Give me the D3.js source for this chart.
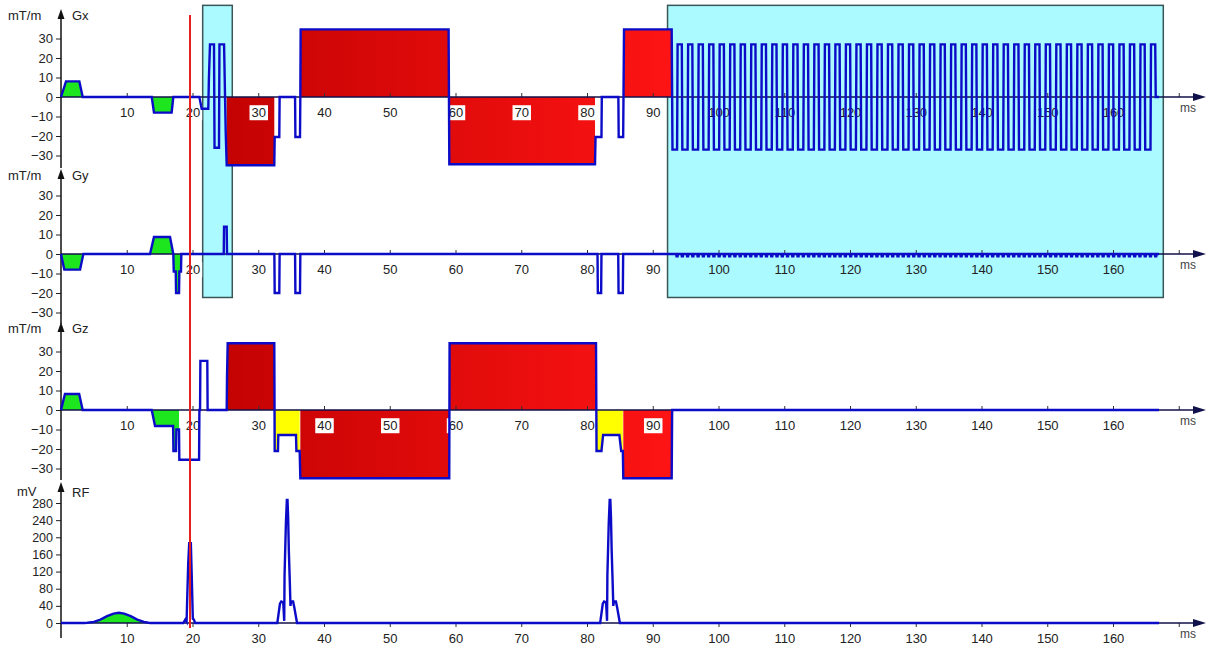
<!DOCTYPE html>
<html>
<head>
<meta charset="utf-8">
<script src="https://cdn.jsdelivr.net/npm/d3@7/dist/d3.min.js"></script>
<style>
body { margin: 0; background: #fff; }
svg { display: block; font-family: "Liberation Sans", Arial, sans-serif; }
</style>
</head>
<body>
<svg id="chart" width="1208" height="650"></svg>
<script>
// ---- data (time in ms, gradients in mT/m, RF in mV) ----
var xTicks = [10, 20, 30, 40, 50, 60, 70, 80, 90, 100, 110, 120, 130, 140, 150, 160, 170];
var gTicks = [-30, -20, -10, 0, 10, 20, 30];
var rfTicks = [0, 40, 80, 120, 160, 200, 240, 280];

var gxWave = [
  [0,0],[0.76,8],[2.79,8],[3.3,0],
  [13.8,0],[14.14,-8],[16.83,-8],[17.08,0],
  [21.04,0],[21.4,-6],[22.4,-6],[22.5,10],[22.66,27],[23.27,27],[23.35,-26],[24.03,-26],[24.1,27],[24.8,27],[24.95,0],[25.05,-18],[25.2,-35],
  [32.44,-35],[32.5,-20.5],[33.2,-20.5],[33.25,0],
  [35.6,0],[35.65,-20.5],[36.35,-20.5],[36.4,0],[36.45,34.7],[58.95,34.7],[59.06,-34.5],[81.22,-34.5],[81.3,-20.5],[82.2,-20.5],[82.25,0],
  [84.77,0],[84.82,-20.5],[85.5,-20.5],[85.55,0],[85.63,34.7],[92.88,34.7],[92.95,0]
];
var gxFills = [[0,3.3,'prep'],[13.8,17.08,'prep'],[25.2,32.44,'crush'],[36.45,58.95,'crush'],[59.06,81.22,'crush'],[85.63,92.88,'crush']];

// EPI readout: centres of the positive lobes
var epiPos = [94.1, 95.7, 97.3, 98.9, 100.5, 102.1, 103.7, 105.3, 106.9, 108.5, 110.1, 111.7, 113.3, 114.9, 116.5,
  118.1, 119.7, 121.3, 122.9, 124.5, 126.1, 127.7, 129.3, 130.9, 132.5, 134.1, 135.7, 137.3, 138.9, 140.5, 142.1,
  143.7, 145.3, 146.9, 148.5, 150.1, 151.7, 153.3, 154.9, 156.5, 158.1, 159.7, 161.3, 162.9, 164.5, 166.1];
var epiAmp = 27;
var epiHalf = 0.4;
var blipAmp = -1.2;

var gyWave = [
  [0,0],[0.5,-8],[2.9,-8],[3.4,0],
  [13.54,0],[14.14,8.7],[16.58,8.7],[17.08,0],[17.15,-9],[17.45,-9],[17.5,-20],[17.95,-20],[18.0,-9],[18.25,-9],[18.3,0],
  [24.75,0],[24.8,14],[25.2,14],[25.25,0],
  [32.45,0],[32.5,-20],[33.2,-20],[33.25,0],
  [35.6,0],[35.65,-20],[36.35,-20],[36.4,0],
  [81.6,0],[81.65,-20],[82.15,-20],[82.2,0],
  [84.75,0],[84.8,-20],[85.45,-20],[85.5,0],
  [92.95,0]
];
var gyFills = [[0,3.4,'prep'],[13.54,18.3,'prep']];

var gzWave = [
  [0,0],[0.6,8.2],[2.76,8.2],[3.3,0],
  [13.8,0],[14.3,-8.2],[16.8,-8.2],[17.05,-8.2],[17.1,-21],[17.5,-21],[17.55,-10],[17.95,-10],[18.0,-25.5],[21.0,-25.5],[21.05,0],
  [21.15,0],[21.2,25.2],[22.25,25.2],[22.3,0],
  [25.2,0],[25.25,17],[25.35,34.2],[32.44,34.2],[32.5,-21],[33.0,-21],[33.05,-12.8],[35.74,-12.8],[35.8,-21],[36.3,-21],
  [36.4,-35],[59.05,-35],[59.1,34.2],[81.37,34.2],[81.45,-21],[82.2,-21],[82.45,-12.8],[84.92,-12.8],[85.2,-21],[85.45,-21],
  [85.52,-35],[92.88,-35],[92.95,0],[167,0]
];
var gzFills = [[0,3.3,'prep'],[13.8,17.95,'prep'],[25.25,32.44,'crush'],[32.5,36.3,'ramp'],[36.4,59.05,'crush'],
  [59.1,81.37,'crush'],[81.45,85.45,'ramp'],[85.52,92.88,'crush']];

var rfWave = [
  [0,0],[3.5,0],[4.0,0.5],[5,2.5],[6,8],[7,16],[8,22],[8.8,24],[9.6,22],[10.6,16],[11.6,8],[12.6,2.5],[13.3,0.5],[13.6,0],
  [18.6,0],[18.9,8],[19.1,3],[19.2,60],[19.35,140],[19.5,186],[19.75,186],[19.9,100],[20.05,10],[20.2,8],[20.4,0],
  [32.9,0],[33.3,45],[33.5,50],[33.8,48],[33.95,5],[34.0,110],[34.1,170],[34.2,230],[34.35,287],[34.45,287],[34.55,245],
  [34.65,170],[34.8,95],[34.9,40],[35.0,50],[35.3,50],[35.5,35],[35.9,0],
  [82.0,0],[82.4,45],[82.6,50],[82.9,48],[83.05,5],[83.1,110],[83.2,170],[83.3,230],[83.45,287],[83.55,287],[83.65,245],
  [83.75,170],[83.9,95],[84.0,40],[84.1,50],[84.4,50],[84.6,35],[85.0,0],
  [167,0]
];
var rfFills = [[3.5,13.6,'prep']];

var readBoxes = [[21.55, 26.05], [92.25, 167.65]];
var markerTime = 19.62;

// ---- build the EPI parts ----
epiPos.forEach(function(c, i) {
  if (i == 0) gxWave.push([93.0, -epiAmp]);
  gxWave.push([c - epiHalf, -epiAmp]);
  gxWave.push([c - epiHalf + 0.08, epiAmp]);
  gxWave.push([c + epiHalf - 0.08, epiAmp]);
  if (i < epiPos.length - 1) gxWave.push([c + epiHalf, -epiAmp]);
  else gxWave.push([c + epiHalf, 0]);
});
gxWave.push([167, 0]);

epiPos.forEach(function(c) {
  [c - epiHalf, c + epiHalf].forEach(function(t) {
    gyWave.push([t - 0.12, 0], [t - 0.08, blipAmp], [t + 0.08, blipAmp], [t + 0.12, 0]);
  });
});
gyWave.push([167, 0]);

// ---- drawing ----
var svg = d3.select('#chart');
var x = d3.scaleLinear().domain([0, 170]).range([61, 61 + 170 * 6.575]);

var fillColor = { prep: '#1ee61e', crush: 'url(#redGrad)', ramp: '#ffff00' };
var waveColor = '#0c0cc8';
var axisColor = '#10104a';

var defs = svg.append('defs');
var grad = defs.append('linearGradient').attr('id', 'redGrad')
  .attr('gradientUnits', 'userSpaceOnUse')
  .attr('x1', 170).attr('x2', 680).attr('y1', 0).attr('y2', 0);
grad.append('stop').attr('offset', '0%').attr('stop-color', '#bd0000');
grad.append('stop').attr('offset', '100%').attr('stop-color', '#ff1414');

function gScale(zero) {
  return d3.scaleLinear().domain([-30, 30]).range([zero + 58.5, zero - 58.5]);
}

var panels = [
  { name: 'Gx', unit: 'mT/m', zero: 97, tip: 9, bottom: 168, y: gScale(97), ticks: gTicks, wave: gxWave, fills: gxFills, boxed: true },
  { name: 'Gy', unit: 'mT/m', zero: 254, tip: 169, bottom: 324, y: gScale(254), ticks: gTicks, wave: gyWave, fills: gyFills, boxed: true },
  { name: 'Gz', unit: 'mT/m', zero: 410, tip: 322, bottom: 480, y: gScale(410), ticks: gTicks, wave: gzWave, fills: gzFills, boxed: false },
  { name: 'RF', unit: 'mV', zero: 623, tip: 482, bottom: 638,
    y: d3.scaleLinear().domain([0, 280]).range([623, 503]), ticks: rfTicks, wave: rfWave, fills: rfFills, boxed: false }
];

// cyan read-out boxes over Gx and Gy
var boxTop = panels[0].y(47);
var boxBot = panels[1].y(-22.3);
svg.append('g').selectAll('rect').data(readBoxes).enter().append('rect')
  .attr('x', function(d) { return x(d[0]); })
  .attr('y', boxTop)
  .attr('width', function(d) { return x(d[1]) - x(d[0]); })
  .attr('height', boxBot - boxTop)
  .attr('fill', '#aafaff')
  .attr('stroke', '#3b5656')
  .attr('stroke-width', 1.5);

function inBox(t) {
  return readBoxes.some(function(b) { return t > b[0] && t < b[1]; });
}

panels.forEach(function(p, pi) {
  var g = svg.append('g');
  var y = p.y;

  // filled lobes
  p.fills.forEach(function(f, fi) {
    var id = 'clip' + pi + '_' + fi;
    defs.append('clipPath').attr('id', id).append('rect')
      .attr('x', x(f[0])).attr('y', 0)
      .attr('width', x(f[1]) - x(f[0])).attr('height', 650);
    g.append('path')
      .datum(p.wave)
      .attr('clip-path', 'url(#' + id + ')')
      .attr('fill', fillColor[f[2]])
      .attr('d', d3.area().x(function(d) { return x(d[0]); }).y0(y(0)).y1(function(d) { return y(d[1]); }));
  });

  // time axis
  var isRF = p.name == 'RF';
  var xAxis = d3.axisBottom(x).tickValues(xTicks)
    .tickSize(isRF ? 4 : -4).tickPadding(isRF ? 7 : 11)
    .tickFormat(function(d) { return d == 170 ? '' : d; });
  var xg = g.append('g').attr('transform', 'translate(0,' + p.zero + ')').call(xAxis);
  xg.select('.domain').remove();
  xg.selectAll('.tick line').attr('stroke', '#333').attr('stroke-width', 1);
  xg.selectAll('.tick text').attr('font-size', 13).attr('fill', '#222')
    .attr('font-family', '"Liberation Sans", Arial, sans-serif');
  xg.selectAll('.tick').each(function(d) {
    if (d == 170) return;
    if (p.boxed && inBox(d)) return;
    var t = d3.select(this).select('text');
    var bb = t.node().getBBox();
    d3.select(this).insert('rect', 'text')
      .attr('x', bb.x - 2).attr('y', bb.y)
      .attr('width', bb.width + 4).attr('height', bb.height)
      .attr('fill', '#fff');
  });
  g.append('line')
    .attr('x1', x(0)).attr('x2', 1196)
    .attr('y1', p.zero).attr('y2', p.zero)
    .attr('stroke', axisColor).attr('stroke-width', 1.5);
  g.append('path')
    .attr('d', 'M1193,' + (p.zero - 4) + 'L1206,' + p.zero + 'L1193,' + (p.zero + 4) + 'Z')
    .attr('fill', axisColor);
  g.append('text').attr('x', 1188).attr('y', p.zero + 15)
    .attr('text-anchor', 'middle').attr('font-size', 12).attr('fill', '#444')
    .text('ms');

  // value axis
  var yAxis = d3.axisLeft(y).tickValues(p.ticks).tickSize(5).tickPadding(3);
  var yg = g.append('g').attr('transform', 'translate(' + x(0) + ',0)').call(yAxis);
  yg.select('.domain').remove();
  yg.selectAll('.tick line').attr('stroke', '#222');
  yg.selectAll('.tick text').attr('font-size', isRF ? 12.5 : 13).attr('fill', '#222')
    .attr('font-family', '"Liberation Sans", Arial, sans-serif');
  g.append('line')
    .attr('x1', x(0)).attr('x2', x(0))
    .attr('y1', p.tip + 6).attr('y2', p.bottom)
    .attr('stroke', '#111').attr('stroke-width', 1.5);
  g.append('path')
    .attr('d', 'M' + x(0) + ',' + p.tip + 'L' + (x(0) + 3.5) + ',' + (p.tip + 10) + 'L' + (x(0) - 3.5) + ',' + (p.tip + 10) + 'Z')
    .attr('fill', '#111');
  g.append('text').attr('x', isRF ? 17 : 8).attr('y', p.tip + (isRF ? 14 : 11))
    .attr('font-size', 13).attr('fill', '#222').text(p.unit);
  g.append('text').attr('x', 72).attr('y', p.tip + (isRF ? 15 : 11))
    .attr('font-size', 13).attr('fill', '#222').text(p.name);

  // waveform outline
  g.append('path')
    .datum(p.wave)
    .attr('fill', 'none')
    .attr('stroke', waveColor)
    .attr('stroke-width', 2.4)
    .attr('stroke-linejoin', 'miter')
    .attr('d', d3.line().x(function(d) { return x(d[0]); }).y(function(d) { return y(d[1]); }));
});

// red time marker
svg.append('line')
  .attr('x1', x(markerTime)).attr('x2', x(markerTime))
  .attr('y1', 15).attr('y2', 628)
  .attr('stroke', '#e8201e').attr('stroke-width', 2);
</script>
</body>
</html>
